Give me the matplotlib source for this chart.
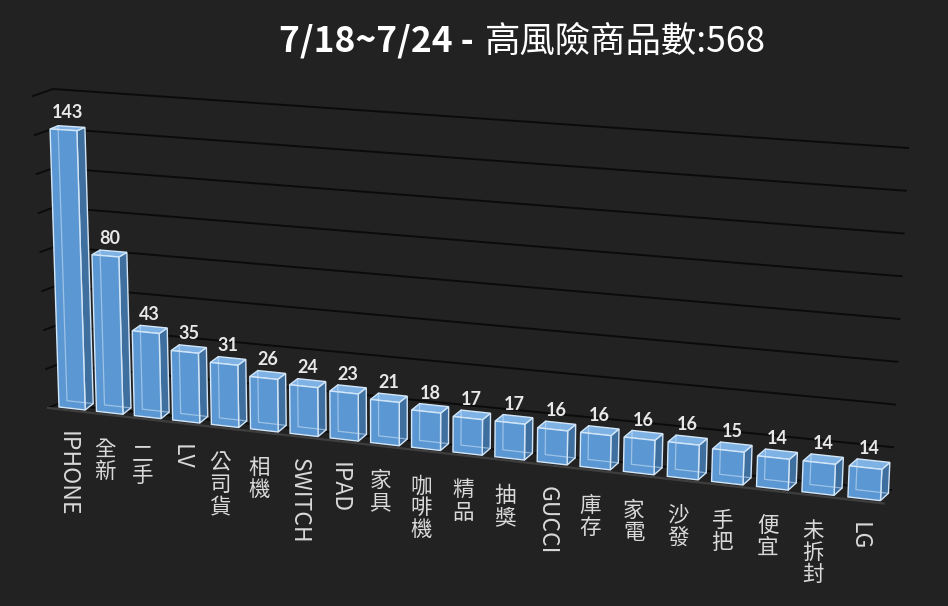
import numpy as np
import matplotlib
matplotlib.use('Agg')
import matplotlib.pyplot as plt
from matplotlib.transforms import Transform
from matplotlib.patches import Rectangle

W, H = 948, 606

# data
title_bold = '7/18~7/24 -'
title_rest = '高風險商品數:568'
categories = ['IPHONE', '全新', '二手', 'LV', '公司貨', '相機', 'SWITCH', 'IPAD', '家具', '咖啡機',
              '精品', '抽獎', 'GUCCI', '庫存', '家電', '沙發', '手把', '便宜', '未拆封', 'LG']
counts = [143, 80, 43, 35, 31, 26, 24, 23, 21, 18, 17, 17, 16, 16, 16, 16, 15, 14, 14, 14]
grid_values = list(range(0, 161, 20))

BAR_W = 0.7
FAM = ['Noto Sans CJK TC', 'DejaVu Sans']


def box_point(c, v, z):
    # perspective of the excel 3d column chart, in picture pixels (y down)
    cl = c + BAR_W / 2
    u = (59 + 36.96 * cl) / (1 - 0.00538 * cl)
    yf = 407 + 0.114 * (u - 59)
    h = v * 1.945 / (1 - 0.00655 * cl)
    dx, dy = u - 400, yf - 11000
    n = np.hypot(dx, dy)
    x = u + h * dx / n
    y = yf + h * dy / n
    x = x + z * 8
    y = y - z * (3.3 + 0.01095 * (y - 129))
    return x, y


def wall_point(s, v):
    f = v / 160.0
    sx, sy = 48 - 15 * f, 408 - 312 * f
    lx, ly = 58 - 5 * f, 404 - 315 * f
    rx, ry = 891 + 17 * f, 490 - 342 * f
    left = s < 0
    t = np.abs(s)
    x = np.where(left, lx + t * (sx - lx), lx + t * (rx - lx))
    y = np.where(left, ly + t * (sy - ly), ly + t * (ry - ly))
    return x, y


class ChartProj(Transform):
    input_dims = 2
    output_dims = 2

    def __init__(self, kind, fixed=0.0):
        super().__init__()
        self.kind = kind
        self.fixed = fixed

    def transform_non_affine(self, values):
        a = np.asarray(values, dtype=float).reshape(-1, 2)
        p, q = a[:, 0], a[:, 1]
        f = np.full_like(p, self.fixed)
        if self.kind == 'wall':
            x, y = wall_point(p, q)
        else:
            if self.kind == 'front':
                c, v, z = p, q, f
            elif self.kind == 'top':
                c, z, v = p, q, f
            else:
                z, v, c = p, q, f
            x, y = box_point(c, v, z)
        return np.column_stack([x / W, 1 - y / H])


fig = plt.figure(figsize=(W / 100, H / 100), dpi=100, facecolor='#222222')
ax = fig.add_axes([0, 0, 1, 1])
ax.set_axis_off()


def T(kind, fixed=0.0):
    return ChartProj(kind, fixed) + fig.transFigure


# gridlines on side wall + back wall
for g in grid_values:
    ax.plot([-1, 0, 1], [g, g, g], color='#0b0b0b', lw=1.4, transform=T('wall'), zorder=1)

# front edge of the floor
ax.plot([-0.58, 19.47], [0, 0], color='#3e3e3e', lw=1.6, transform=T('front', -0.3), zorder=1.5)

front_c, top_c, side_c, edge_c = '#5b97d2', '#7fb2e4', '#3f6f9f', '#d3e6f8'

for i, v in enumerate(counts):
    c0 = i - BAR_W / 2
    c1 = i + BAR_W / 2
    ax.add_patch(Rectangle((0, 0), 1, v, transform=T('side', c1), facecolor=side_c,
                           edgecolor=edge_c, lw=1.0, zorder=2))
    ax.add_patch(Rectangle((c0, 0), BAR_W, 1, transform=T('top', v), facecolor=top_c,
                           edgecolor=edge_c, lw=1.0, zorder=2))
    ax.add_patch(Rectangle((c0, 0), BAR_W, v, transform=T('front', 0), facecolor=front_c,
                           edgecolor=edge_c, lw=1.0, zorder=3))
    # back edges seen through the glassy bar
    ax.plot([c0, c0, c1], [v, 0, 0], color=edge_c, lw=0.9, alpha=0.55,
            transform=T('front', 1), zorder=3.5)

    ax.annotate(str(v), xy=(i, v), xycoords=T('front', 0.5), xytext=(0, 7),
                textcoords='offset points', ha='center', va='baseline',
                fontsize=13, fontweight='bold', family=['Lato', 'DejaVu Sans'],
                color='#e8e8e8', zorder=4)

    name = categories[i]
    if name.isascii():
        ax.annotate(name, xy=(i, 0), xycoords=T('front', -0.6), xytext=(0, -13.5),
                    textcoords='offset points', ha='center', va='top', rotation=-90,
                    fontsize=16.5, family=FAM, color='#d9d9d9', zorder=4)
    else:
        ax.annotate('\n'.join(name), xy=(i, 0), xycoords=T('front', -0.6), xytext=(0, -16),
                    textcoords='offset points', ha='center', va='top', linespacing=1.0,
                    fontsize=15.5, family=FAM, color='#d9d9d9', zorder=4)

# title: bold date range followed by regular text
t1 = fig.text(279 / W, 1 - 52 / H, title_bold, fontsize=25.5, fontweight='bold',
              family=FAM, color='white', ha='left', va='baseline')
renderer = fig.canvas.get_renderer()
bb = t1.get_window_extent(renderer)
fig.text((bb.x1 + 11) / fig.bbox.width, 1 - 52 / H, title_rest, fontsize=25.5,
         family=FAM, color='white', ha='left', va='baseline')

fig.savefig('out.png', dpi=100, facecolor=fig.get_facecolor())
